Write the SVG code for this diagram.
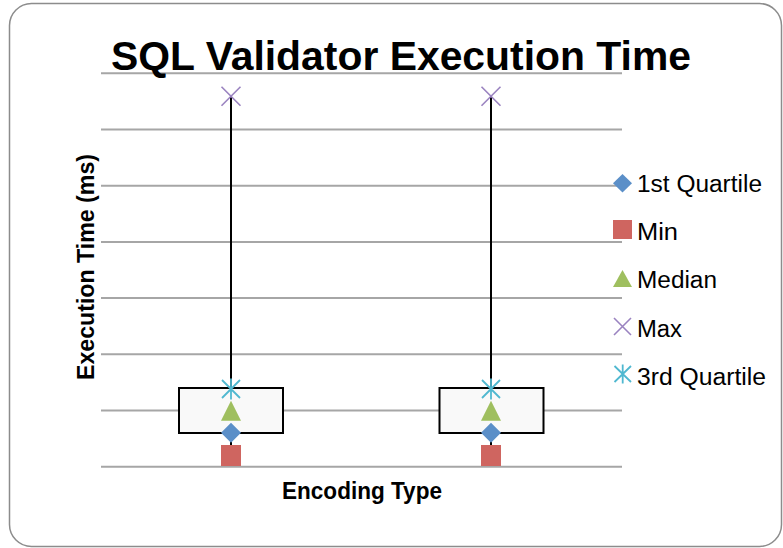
<svg xmlns="http://www.w3.org/2000/svg" xmlns:xlink="http://www.w3.org/1999/xlink" width="783" height="548" viewBox="0 0 783 548">
  <style>
    .frame { fill: #ffffff; stroke: #8c8c8c; stroke-width: 1.5; }
    .grid { stroke: #a6a6a6; stroke-width: 2; fill: none; }
    .whisker { stroke: #000000; stroke-width: 2; fill: none; }
    .box { fill: #f9f9f9; stroke: #000000; stroke-width: 2; }
    .title { font-family: "Liberation Sans", Arial, sans-serif; font-weight: bold; font-size: 40px; fill: #000000; }
    .axis { font-family: "Liberation Sans", Arial, sans-serif; font-weight: bold; font-size: 23.5px; fill: #000000; }
    .legend { font-family: "Liberation Sans", Arial, sans-serif; font-size: 23px; fill: #000000; }
    .q1 { fill: #5b8fc8; }
    .min { fill: #cf6560; }
    .med { fill: #9fbf5f; }
    .max { stroke: #9a83c0; stroke-width: 1.6; fill: none; }
    .q3 { stroke: #4fb8d0; stroke-width: 1.8; fill: none; }
  </style>
  <defs>
    <!-- marker shapes, centred on the origin -->
    <polygon id="m-diamond" class="q1" points="0,-10 10,0 0,10 -10,0"/>
    <rect id="m-square" class="min" x="-10" y="-10.5" width="20" height="21"/>
    <polygon id="m-triangle" class="med" points="0,-10 10,10 -10,10"/>
    <path id="m-cross" class="max" d="M-9.5,-9.5 L9.5,9.5 M-9.5,9.5 L9.5,-9.5"/>
    <path id="m-star" class="q3" d="M-9,-9 L9,9 M-9,9 L9,-9 M0,-10.5 L0,10.5"/>
  </defs>

  <!-- chart area frame -->
  <rect class="frame" x="9.5" y="3.5" width="772" height="543" rx="22" ry="22"/>

  <!-- horizontal gridlines -->
  <g id="gridlines">
    <line class="grid" x1="101" y1="73.3" x2="622" y2="73.3"/>
    <line class="grid" x1="101" y1="129.5" x2="622" y2="129.5"/>
    <line class="grid" x1="101" y1="185.7" x2="622" y2="185.7"/>
    <line class="grid" x1="101" y1="241.9" x2="622" y2="241.9"/>
    <line class="grid" x1="101" y1="298.1" x2="622" y2="298.1"/>
    <line class="grid" x1="101" y1="354.3" x2="622" y2="354.3"/>
    <line class="grid" x1="101" y1="410.5" x2="622" y2="410.5"/>
    <line class="grid" x1="101" y1="466.7" x2="622" y2="466.7"/>
  </g>

  <!-- title -->
  <text class="title" x="111" y="70" textLength="580" lengthAdjust="spacingAndGlyphs">SQL Validator Execution Time</text>

  <!-- high-low lines from max to min -->
  <g id="connectors">
    <line class="whisker" x1="231" y1="96" x2="231" y2="455"/>
    <line class="whisker" x1="491" y1="96" x2="491" y2="455"/>
  </g>

  <!-- first encoding type -->
  <g id="series-1">
    <rect class="box" x="179" y="388" width="104" height="45"/>
    <use xlink:href="#m-cross" x="231" y="96.3"/>
    <use xlink:href="#m-star" x="231" y="389"/>
    <use xlink:href="#m-triangle" x="231" y="410.7"/>
    <use xlink:href="#m-diamond" x="231" y="432.7"/>
    <use xlink:href="#m-square" x="231" y="455.5"/>
  </g>

  <!-- second encoding type -->
  <g id="series-2">
    <rect class="box" x="439.5" y="388" width="104" height="45"/>
    <use xlink:href="#m-cross" x="491" y="96.3"/>
    <use xlink:href="#m-star" x="491" y="389"/>
    <use xlink:href="#m-triangle" x="491" y="410.7"/>
    <use xlink:href="#m-diamond" x="491" y="432.7"/>
    <use xlink:href="#m-square" x="491" y="455.5"/>
  </g>

  <!-- axis titles -->
  <text class="axis" x="362" y="498.5" text-anchor="middle" textLength="160" lengthAdjust="spacingAndGlyphs">Encoding Type</text>
  <text class="axis" transform="translate(94,267) rotate(-90)" x="0" y="0" text-anchor="middle" textLength="226" lengthAdjust="spacingAndGlyphs">Execution Time (ms)</text>

  <!-- legend -->
  <g id="legend">
    <g id="legend-q1">
      <polygon class="q1" points="622.5,174 632,183.3 622.5,192.6 613,183.3"/>
      <text class="legend" x="637" y="191.7" textLength="125" lengthAdjust="spacingAndGlyphs">1st Quartile</text>
    </g>
    <g id="legend-min">
      <rect class="min" x="613" y="220" width="19" height="19"/>
      <text class="legend" x="637" y="240" textLength="41" lengthAdjust="spacingAndGlyphs">Min</text>
    </g>
    <g id="legend-median">
      <polygon class="med" points="622.5,270 632,287 613,287"/>
      <text class="legend" x="637" y="288" textLength="80" lengthAdjust="spacingAndGlyphs">Median</text>
    </g>
    <g id="legend-max">
      <path class="max" d="M614,318 L631,335 M614,335 L631,318"/>
      <text class="legend" x="637" y="336.5" textLength="45" lengthAdjust="spacingAndGlyphs">Max</text>
    </g>
    <g id="legend-q3">
      <path class="q3" d="M614.5,366 L631,382 M614.5,382 L631,366 M622.7,364.5 L622.7,383.5"/>
      <text class="legend" x="637" y="385" textLength="129" lengthAdjust="spacingAndGlyphs">3rd Quartile</text>
    </g>
  </g>
</svg>
